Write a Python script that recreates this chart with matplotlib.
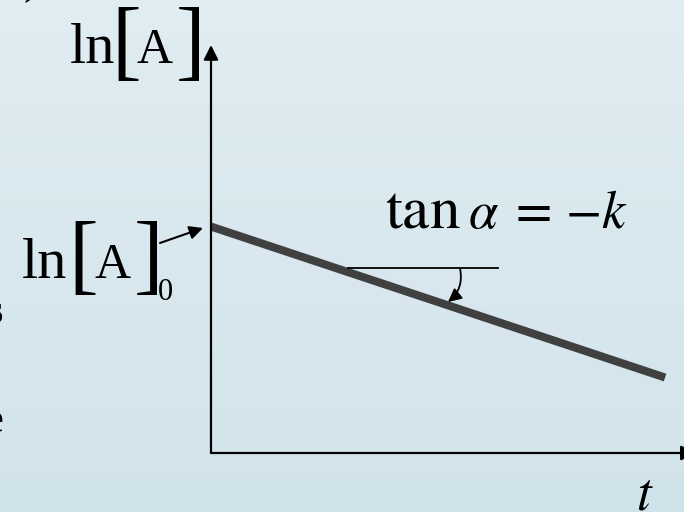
import numpy as np
import matplotlib
matplotlib.use("Agg")
import matplotlib.pyplot as plt
from matplotlib.colors import LinearSegmentedColormap

plt.rcParams['font.family'] = ['Liberation Serif', 'DejaVu Serif']
plt.rcParams['mathtext.fontset'] = 'stix'

# first-order kinetics: ln[A] falls linearly with t
t_vals = [0.0, 9.6]
lnA_vals = [5.55, 1.85]
# short horizontal reference used to mark the angle alpha
ref_t = [2.9, 6.07]
ref_y = [4.53, 4.53]

W, H = 684, 512
fig = plt.figure(figsize=(W / 100, H / 100), dpi=100)

# background gradient + pixel space for the labels
bg = fig.add_axes([0, 0, 1, 1])
grad = np.linspace(0, 1, 256).reshape(-1, 1)
cmap = LinearSegmentedColormap.from_list('bgc', ['#e0edf2', '#d1e3ea'])
bg.imshow(grad, cmap=cmap, aspect='auto', extent=[0, W, H, 0])
bg.set_xlim(0, W)
bg.set_ylim(H, 0)
bg.axis('off')

# plot axes, origin at the corner of the drawn axes
ax = fig.add_axes([211 / W, (H - 453) / H, (W - 211) / W, (453 - 45) / H])
ax.set_xlim(0, 10)
ax.set_ylim(0, 10)
ax.patch.set_alpha(0)
for s in ax.spines.values():
    s.set_visible(False)
ax.set_xticks([])
ax.set_yticks([])

arr = dict(arrowstyle='-|>', lw=1.6, color='black', mutation_scale=22, shrinkA=0, shrinkB=0)
ax.annotate('', xy=(0, 1), xytext=(0, 0), xycoords='axes fraction', arrowprops=arr,
            annotation_clip=False)
ax.annotate('', xy=(1.025, 0), xytext=(0, 0), xycoords='axes fraction', arrowprops=arr,
            annotation_clip=False)

ax.plot(t_vals, lnA_vals, color='#404040', lw=5.8, solid_capstyle='butt', clip_on=False)
ax.plot(ref_t, ref_y, color='black', lw=1.3)

# curved arrow showing the angle
ax.annotate('', xy=((448 - 211) / 47.3, (453 - 302) / 40.8),
            xytext=((460 - 211) / 47.3, ref_y[0]),
            arrowprops=dict(arrowstyle='-|>', lw=1.3, color='black', mutation_scale=20,
                            shrinkA=0, shrinkB=0, connectionstyle='arc3,rad=-0.3'))

big = 64   # square brackets
fln = 42   # "ln"
fa = 36    # "A"

# y-axis label ln[A]
bg.text(70, 63, 'ln', fontsize=fln, va='baseline')
bg.text(126, 69, '[', fontsize=big, va='baseline', ha='center')
bg.text(155, 63, 'A', fontsize=fa, va='baseline', ha='center')
bg.text(191, 69, ']', fontsize=big, va='baseline', ha='center')

# intercept label ln[A]0
bg.text(22, 278, 'ln', fontsize=fln, va='baseline')
bg.text(83, 283, '[', fontsize=big, va='baseline', ha='center')
bg.text(113, 278, 'A', fontsize=fa, va='baseline', ha='center')
bg.text(149, 283, ']', fontsize=big, va='baseline', ha='center')
bg.text(165, 300, '0', fontsize=22, va='baseline', ha='center')
bg.annotate('', xy=(203, 228), xytext=(160, 243),
            arrowprops=dict(arrowstyle='-|>', lw=1.5, color='black', mutation_scale=20,
                            shrinkA=0, shrinkB=0))

# slope label
bg.text(385, 228, r'$\mathrm{tan}$', fontsize=44, va='baseline')
bg.text(468, 228, r'$\alpha\;=\,{-}k$', fontsize=38, va='baseline')
bg.text(636, 510, r'$t$', fontsize=38, va='baseline')

# bits of text cut off at the slide edge
bg.text(23, 3, ')', fontsize=34, va='bottom')
bg.text(3, 323, 's', fontsize=28, va='baseline', ha='right', fontweight='bold')
bg.text(3, 432, 'e', fontsize=28, va='baseline', ha='right', fontweight='bold')

fig.savefig('out.png', dpi=100)
